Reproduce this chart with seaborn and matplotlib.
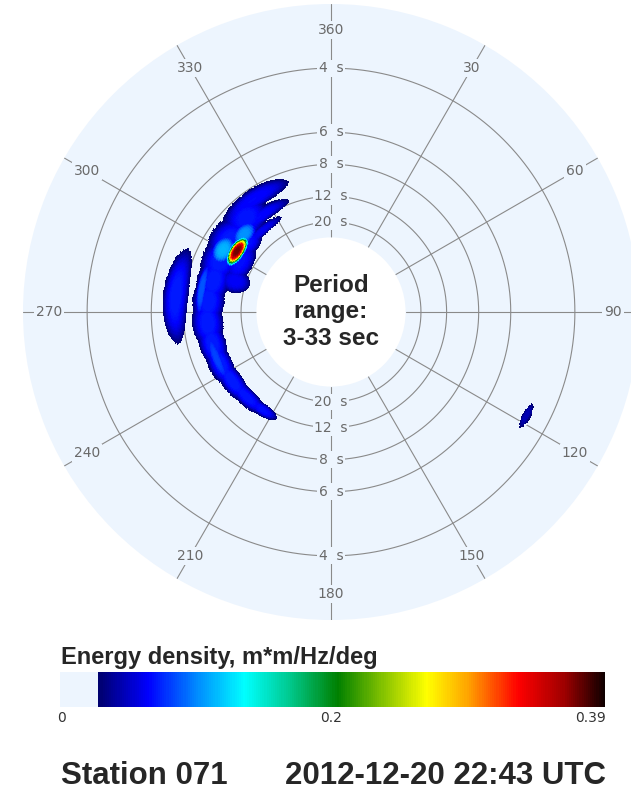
import numpy as np
import matplotlib
matplotlib.use("Agg")
import matplotlib.pyplot as plt
from matplotlib.colors import LinearSegmentedColormap
import seaborn as sns

# spectral patches: centre direction (deg, from), centre frequency (Hz),
# visible half-extent in direction (deg) and in frequency (Hz), peak energy (m*m/Hz/deg)
# main crescent, west of the buoy, from the 208 deg tip round to ~328 deg
arc_dir = [215, 225, 235, 245, 255, 265, 275, 285, 295, 305, 318]
arc_freq = [0.0885, 0.089, 0.090, 0.092, 0.0925, 0.094, 0.093, 0.0915, 0.092, 0.094, 0.098]
arc_dir_half = [8, 12, 12, 12, 12, 12, 12, 12, 12, 12, 11]
arc_freq_half = [0.008, 0.011, 0.0135, 0.0155, 0.0175, 0.0205, 0.021, 0.0215, 0.024, 0.026, 0.025]
arc_energy = [0.066, 0.068, 0.07, 0.07, 0.07, 0.07, 0.07, 0.07, 0.07, 0.07, 0.068]

# other patches: three fingers at the north end, inner lobe, light streaks,
# the peak and its halo, the detached west blob and the small SE patch
comp_dir = [325, 322, 318, 288, 299, 310, 280, 248, 303, 300, 312, 276, 118]
comp_freq = [0.111, 0.088, 0.072, 0.064, 0.068, 0.074, 0.104, 0.094, 0.079, 0.095, 0.085, 0.136, 0.221]
comp_dir_half = [17, 17.5, 14.5, 7, 12, 9, 14, 14, 9.6, 8, 8, 18, 3.5]
comp_freq_half = [0.013, 0.0095, 0.0065, 0.020, 0.017, 0.015, 0.007, 0.008, 0.011, 0.016, 0.014, 0.0165, 0.005]
comp_energy = [0.064, 0.064, 0.06, 0.062, 0.066, 0.066, 0.085, 0.08, 0.37, 0.11, 0.1, 0.07, 0.045]

angle_labels = [360, 30, 60, 90, 120, 150, 180, 210, 240, 270, 300, 330]
period_rings = [4, 6, 8, 12, 20]
cbar_ticks = [0, 0.2, 0.39]

fmin, fmax = 1 / 33, 1 / 3       # period range 3-33 sec
emax = 0.39
threshold = 0.0265               # below this the plot shows background

disk = "#edf5fe"
grid_col = "#8a8a8a"
lab_col = "#6a6a6a"

sns.set_style("white")

# colour table: pale below threshold, then navy..blue..cyan..green..yellow..red..black
cut = threshold / emax
stops = [(0.0, "#00006b"), (0.10, "#0000ff"), (0.20, "#0090ff"), (0.29, "#00ffff"),
         (0.38, "#00c88c"), (0.474, "#008000"), (0.56, "#80c000"), (0.65, "#ffff00"),
         (0.73, "#ffa500"), (0.83, "#ff0000"), (0.92, "#a00000"), (1.0, "#100000")]
cmap = LinearSegmentedColormap.from_list(
    "cdip", [(0.0, disk), (cut, disk)] + [(cut + (1 - cut) * s, c) for s, c in stops])

# energy on a direction x frequency grid, each patch a flat-topped bump that
# falls to the threshold at its visible edge
theta_c = np.arange(0, 360, 0.5) + 0.25
freq_c = np.arange(0.03, fmax, 0.0005) + 0.00025
TH, FR = np.meshgrid(theta_c, freq_c)
energy = np.zeros_like(TH)
patches = zip(arc_dir + comp_dir, arc_freq + comp_freq, arc_dir_half + comp_dir_half,
              arc_freq_half + comp_freq_half, arc_energy + comp_energy)
for d, f, hd, hf, a in patches:
    dd = (TH - d + 180) % 360 - 180
    u = (dd / hd) ** 2 + ((FR - f) / hf) ** 2
    energy = np.maximum(energy, a * np.exp(np.log(threshold / a) * u ** 2))
energy = np.ma.masked_less(energy, threshold)

fig = plt.figure(figsize=(6.31, 7.90), dpi=100)
ax = fig.add_axes([23 / 631, 1 - 620 / 790, 616 / 631, 616 / 790], projection="polar")
ax.set_theta_zero_location("N")
ax.set_theta_direction(-1)
ax.set_ylim(0.03, fmax)
ax.set_rorigin(-0.0669)
ax.set_facecolor(disk)
ax.grid(False)
ax.set_xticks([])
ax.set_yticks([])
for s in ax.spines.values():
    s.set_color("none")

# rings and spokes
ring_th = np.linspace(0, 2 * np.pi, 721)
for p in period_rings:
    ax.plot(ring_th, np.full_like(ring_th, 1 / p), color=grid_col, lw=0.8, zorder=1)
for a in angle_labels:
    t = np.deg2rad(a)
    ax.plot([t, t], [0.03, fmax], color=grid_col, lw=0.8, zorder=1)
    ax.text(t, 0.2994, str(a), ha="center", va="center", fontsize=10, color=lab_col,
            bbox=dict(fc=disk, ec="none", pad=1.5), zorder=3)
for p in period_rings:
    for t in (0, np.pi):
        ax.text(t, 1 / p, f"{p}  s", ha="center", va="center", fontsize=10, color=lab_col,
                bbox=dict(fc=disk, ec="none", pad=1.0), zorder=3)

mesh = ax.pcolormesh(np.deg2rad(theta_c), freq_c, energy, cmap=cmap, vmin=0, vmax=emax,
                     shading="nearest", zorder=2)

ax.text(0.5, 0.5, "Period\nrange:\n3-33 sec", transform=ax.transAxes, ha="center",
        va="center", fontsize=17.5, fontweight="bold", family="Liberation Sans",
        linespacing=1.2, zorder=4)

# colour bar
fig.text(61 / 631, 1 - 664 / 790, "Energy density, m*m/Hz/deg", fontsize=17,
         fontweight="bold", family="Liberation Sans", va="baseline")
cax = fig.add_axes([60 / 631, 1 - 707 / 790, 545 / 631, 35 / 790])
cb = fig.colorbar(mesh, cax=cax, orientation="horizontal")
cb.outline.set_visible(False)
cax.set_xticks([])
for v, x, ha in zip(cbar_ticks, [61, 331, 606], ["center", "center", "right"]):
    fig.text(x / 631, 1 - 718 / 790, f"{v:g}", ha=ha, va="center", fontsize=10, color="#333333")

fig.text(61 / 631, 1 - 784 / 790, "Station 071", fontsize=22.5, fontweight="bold",
         family="Liberation Sans", va="baseline")
fig.text(606 / 631, 1 - 784 / 790, "2012-12-20 22:43 UTC", fontsize=22.5, fontweight="bold",
         family="Liberation Sans", va="baseline", ha="right")

fig.savefig("out.png", dpi=100)
